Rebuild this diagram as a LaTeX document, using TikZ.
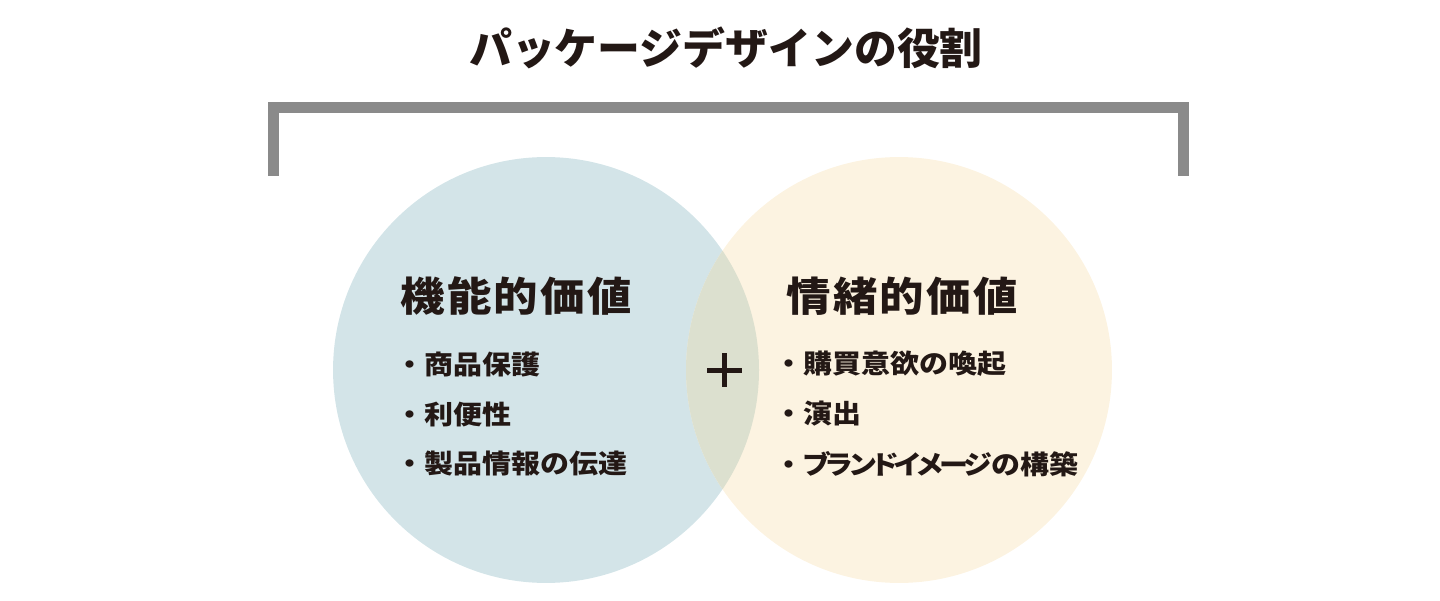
\documentclass[tikz,border=0pt]{standalone}
\usepackage{fontspec}
\setmainfont{Noto Sans CJK JP}
\usetikzlibrary{positioning}
\definecolor{ink}{HTML}{231815}
\definecolor{frame}{HTML}{8A8A8A}
\definecolor{funcblue}{HTML}{D3E4E8}
\definecolor{emocream}{HTML}{FCF3E1}
\definecolor{mixgreen}{HTML}{DCE0CF}
% glyphs in the layout are a little wide
\newcommand{\wide}[1]{\scalebox{1.1}[1]{#1}}
\newcommand{\kana}[1]{{\addfontfeature{RawFeature=+palt,LetterSpace=-12}#1}}

\begin{document}
\begin{tikzpicture}[x=0.02cm, y=-0.02cm,
    ring/.style={circle, minimum size=8.52cm, inner sep=0pt},
    title/.style={font=\bfseries\fontsize{24.4}{28}\selectfont, text=ink, inner sep=0pt},
    heading/.style={font=\bfseries\fontsize{23}{27}\selectfont\addfontfeature{LetterSpace=5}, text=ink, inner sep=0pt},
    item/.style={font=\bfseries\fontsize{15}{18}\selectfont, text=ink, inner sep=0pt, anchor=west},
]
\useasboundingbox (0,0) rectangle (1440,601);

% Title and bracket
\node[title] (head) at (726,48) {パッケージデザインの役割};
\draw[frame, line width=0.22cm, line cap=butt, miter limit=10] (273,176) |- (1183.5,107.8) -- (1183.5,176);

% Two circles
\node[ring, fill=funcblue] (func) at (546,370) {};
\node[ring, fill=emocream] (emo) at (899,370) {};
\begin{scope}
  \clip (546,370) circle (213);
  \fill[mixgreen] (899,370) circle (213);
\end{scope}

% Plus sign in the overlap
\draw[ink, line width=0.1cm] (707,370) -- (742,370) (724.5,353) -- (724.5,387);

% Left: functional value
\node[heading] (funchead) at (516,296) {\wide{機能的価値}};
\node[item] (f1) at (395,364) {\wide{・商品保護}};
\node[item] (f2) at (395,414) {\wide{・利便性}};
\node[item] (f3) at (395,464) {\wide{・製品情報の伝達}};

% Right: emotional value
\node[heading] (emohead) at (902,296) {\wide{情緒的価値}};
\node[item] (e1) at (774,364) {\wide{・購買意欲の喚起}};
\node[item] (e2) at (774,414) {\wide{・演出}};
\node[item] (e3) at (774,464) {\wide{・\kana{ブランドイメージ}の構築}};

\end{tikzpicture}
\end{document}
